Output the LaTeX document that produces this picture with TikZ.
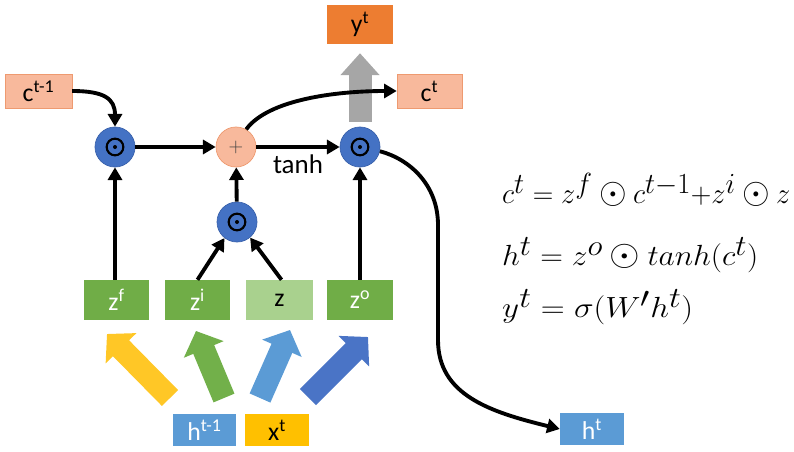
\documentclass[tikz,border=0pt]{standalone}
\usepackage{fontspec}
\setmainfont{Carlito}
\usetikzlibrary{arrows.meta,calc}
\newlength\pxu
\setlength\pxu{0.03cm}
\definecolor{salmon}{HTML}{F8B99C}
\definecolor{salmonE}{HTML}{EE9A70}
\definecolor{orng}{HTML}{ED7D31}
\definecolor{grn}{HTML}{70AD47}
\definecolor{lgrn}{HTML}{A9D18E}
\definecolor{lblue}{HTML}{5B9BD5}
\definecolor{blu}{HTML}{4472C4}
\definecolor{bluE}{HTML}{3A62AC}
\definecolor{yel}{HTML}{FFC000}
\definecolor{gry}{HTML}{A6A6A6}
\definecolor{fyel}{HTML}{FFC726}
\definecolor{fgrn}{HTML}{72B04A}
\definecolor{flblue}{HTML}{5B9BD5}
\definecolor{fblu}{HTML}{4A74C6}
\newcommand\bodot{\mathbin{\scalebox{1.25}{$\odot$}}}
\begin{document}
\begin{tikzpicture}[x=0.03cm,y=-0.03cm,
  lbl/.style={font=\fontsize{22}{24}\selectfont},
  rbox/.style={rectangle,inner sep=0pt,lbl},
  mul/.style={circle,fill=blu,draw=bluE,line width=0.6pt,minimum size=40\pxu,inner sep=0pt,
    path picture={\draw[draw=black,line width=1.8pt] (path picture bounding box.center) circle (0.25cm);
      \fill[fill=black] (path picture bounding box.center) circle (0.06cm);}},
  arr/.style={line width=3.3pt,-{Triangle[length=0.38cm,width=0.42cm]}},
  fat/.style={line width=0.68cm,-{Triangle[length=0.6cm,width=1.26cm]}},
  eq/.style={anchor=west,inner sep=0pt,font=\fontsize{33}{38}\selectfont}
]
\useasboundingbox (0,0) rectangle (794,451);

% boxes
\node[rbox,fill=salmon,draw=salmonE,minimum width=67\pxu,minimum height=34\pxu] (ctm1) at (38.5,91) {c\textsuperscript{t-1}};
\node[rbox,fill=orng,minimum width=66\pxu,minimum height=39\pxu] (yt) at (360,24.5) {y\textsuperscript{t}};
\node[rbox,fill=salmon,draw=salmonE,minimum width=65\pxu,minimum height=34\pxu] (ct) at (429.5,91) {c\textsuperscript{t}};
\node[rbox,fill=grn,text=white,minimum width=65\pxu,minimum height=40\pxu] (zf) at (116.5,300) {z\textsuperscript{f}};
\node[rbox,fill=grn,text=white,minimum width=65\pxu,minimum height=40\pxu] (zi) at (197.5,300) {z\textsuperscript{i}};
\node[rbox,fill=lgrn,text=black,minimum width=67\pxu,minimum height=40\pxu] (z) at (279.5,300) {z};
\node[rbox,fill=grn,text=white,minimum width=66\pxu,minimum height=40\pxu] (zo) at (360,300) {z\textsuperscript{o}};
\node[rbox,fill=lblue,text=white,minimum width=63\pxu,minimum height=32\pxu] (hm1) at (204.5,430) {h\textsuperscript{t-1}};
\node[rbox,fill=yel,text=black,minimum width=64\pxu,minimum height=32\pxu] (xt) at (277,430) {x\textsuperscript{t}};
\node[rbox,fill=lblue,text=white,minimum width=64\pxu,minimum height=32\pxu] (ht) at (592,429) {h\textsuperscript{t}};

% operators
\node[mul] (m1) at (115,147) {};
\node[circle,fill=salmon,draw=salmonE,line width=0.6pt,minimum size=40\pxu,inner sep=0pt,
  font=\fontsize{18}{20}\selectfont,text=black!75] (plus) at (236,147) {$+$};
\node[mul] (m3) at (360,147) {};
\node[mul] (m2) at (237,222) {};

% gray output arrow
\draw[gry,line width=0.69cm,-{Triangle[length=0.66cm,width=1.14cm]}]
  ($(m3.north)+(0,-5)$) -- ($(yt.south)+(0,9)$);

% connectors
\draw[arr] (ctm1.east) .. controls +(32,0) and +(0,-28) .. (m1.north);
\draw[arr] (m1) -- (plus);
\draw[arr] (plus) -- (m3) node[midway,below=2pt,font=\fontsize{23}{26}\selectfont] {tanh};
\draw[arr] (plus.60) .. controls +(22,-30) and +(-60,0) .. (ct.west);
\draw[arr] (m3.-12) .. controls +(30,8) and +(0,-40) .. (438,225) -- (438,340)
  .. controls (438,395) and (490,412) .. (ht.west);
\draw[arr] (zf.north -| m1) -- (m1.south);
\draw[arr] (zo.north -| m3) -- (m3.south);
\draw[arr] (m2) -- (plus);
\draw[arr] (zi.north) -- (m2.232);
\draw[arr] ($(z.north)+(2,0)$) -- (m2.-50);

% fat input arrows
\coordinate (ya) at (170,398); \coordinate (yb) at (107,334);
\coordinate (ga) at (224,398); \coordinate (gb) at (196,331);
\coordinate (la) at (260,398); \coordinate (lb) at (290,330);
\coordinate (ba) at (308,397); \coordinate (bb) at (368,337);
\draw[fat,fyel] (ya) -- (yb);
\draw[fat,fgrn] (ga) -- (gb);
\draw[fat,flblue] (la) -- (lb);
\draw[fat,fblu] (ba) -- (bb);

% equations
\node[eq] (e1) at (502,190) {\resizebox{288\pxu}{\height}{$c^t = z^f\bodot c^{t-1}{+}z^i\bodot z$}};
\node[eq] (e2) at (502,255) {\resizebox{256\pxu}{\height}{$h^t = z^o\bodot tanh(c^t)$}};
\node[eq] (e3) at (502,307) {\resizebox{191\pxu}{\height}{$y^t = \sigma(W'h^t)$}};
\end{tikzpicture}
\end{document}
